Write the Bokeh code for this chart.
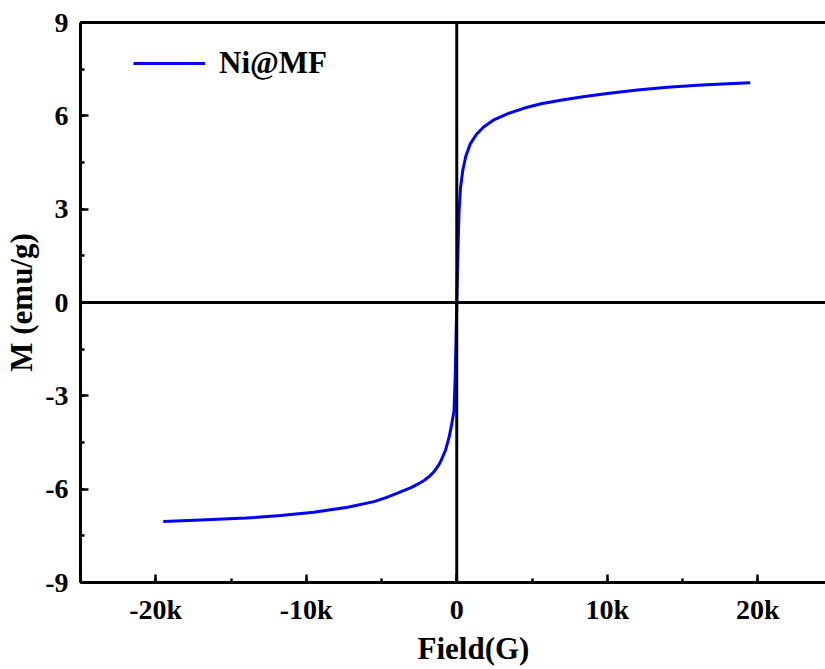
from bokeh.plotting import figure
from bokeh.models import (Range1d, LinearAxis, SingleIntervalTicker, FixedTicker,
                          Span, Legend, LegendItem, ColumnDataSource, Title)
from bokeh.embed import file_html
from bokeh.resources import INLINE

# ---- data ----
field = [-19500, -17000, -14000, -11700, -9500, -7250, -5500, -4700, -3900, -3000,
         -2600, -2170, -1800, -1500, -1250, -1060, -750, -510, -350, -180, -100,
         -50, 0,
         50, 100, 150, 250, 400, 600, 900, 1300, 1800, 2500, 3400, 4500,
         5600, 7000, 8500, 10000, 12000, 14000, 16000, 18000, 19500]
moment = [-7.04, -6.99, -6.93, -6.85, -6.74, -6.58, -6.40, -6.27, -6.12, -5.94,
          -5.84, -5.72, -5.58, -5.43, -5.26, -5.10, -4.75, -4.33, -3.95, -3.47, -2.30,
          -1.20, 0.0,
          1.00, 2.00, 2.90, 3.70, 4.25, 4.70, 5.10, 5.40, 5.65, 5.88, 6.07, 6.25,
          6.39, 6.51, 6.62, 6.72, 6.83, 6.92, 6.98, 7.03, 7.06]
series_name = "Ni@MF"
x_ticks = [-20000, -10000, 0, 10000, 20000]
x_tick_labels = ["-20k", "-10k", "0", "10k", "20k"]
y_ticks = [-9, -6, -3, 0, 3, 6, 9]
y_tick_labels = ["-9", "-6", "-3", "0", "3", "6", "9"]
x_title = "Field(G)"
y_title = "M (emu/g)"

FONT = "Liberation Serif"

p = figure(width=825, height=669, output_backend="svg", toolbar_location=None,
           x_range=Range1d(-25000, 24500), y_range=Range1d(-9, 9),
           x_axis_location=None, y_axis_location=None,
           min_border_left=80, min_border_right=0, min_border_top=22,
           min_border_bottom=87)
p.outline_line_color = None
p.xgrid.visible = False
p.ygrid.visible = False
p.background_fill_color = "white"
p.border_fill_color = "white"

def style(ax):
    ax.axis_line_width = 3
    ax.axis_line_color = "black"
    ax.major_tick_in = 8
    ax.major_tick_out = 0
    ax.minor_tick_in = 4
    ax.minor_tick_out = 0
    ax.major_tick_line_width = 2.5
    ax.minor_tick_line_width = 2.5
    ax.major_label_text_font = FONT
    ax.major_label_text_font_style = "bold"
    ax.major_label_text_font_size = "28px"
    ax.major_label_text_color = "black"
    ax.axis_label_text_font = FONT
    ax.axis_label_text_font_style = "bold"
    ax.axis_label_text_font_size = "31px"
    ax.axis_label_text_color = "black"

xax = LinearAxis(ticker=SingleIntervalTicker(interval=10000, num_minor_ticks=2))
xax.major_label_overrides = dict(zip(x_ticks, x_tick_labels))
style(xax)
xax.major_label_standoff = 11
p.add_layout(xax, "below")

yax = LinearAxis(ticker=SingleIntervalTicker(interval=3, num_minor_ticks=2),
                 axis_label=y_title)
yax.major_label_overrides = dict(zip(y_ticks, y_tick_labels))
style(yax)
yax.major_label_standoff = 12
yax.axis_label_standoff = 3
p.add_layout(yax, "left")

top = LinearAxis(ticker=FixedTicker(ticks=[]))
top.axis_line_width = 3
top.major_label_text_font_size = "0px"
top.major_tick_out = 0
top.minor_tick_out = 0
p.add_layout(top, "above")

# x-axis title: the original frame runs past the right edge of the picture,
# so the title sits right of the visible centre
xt = Title(text=x_title, align="left", offset=337, standoff=2,
           text_font=FONT, text_font_style="bold", text_font_size="31px",
           text_color="black")
p.add_layout(xt, "below")

p.add_layout(Span(location=0, dimension="width", line_color="black", line_width=3))
p.add_layout(Span(location=0, dimension="height", line_color="black", line_width=3))

src = ColumnDataSource(dict(x=field, y=moment))
r = p.line("x", "y", source=src, line_color="#0000ff", line_width=3)

legend = Legend(items=[LegendItem(label=series_name, renderers=[r])],
                location=(53, 501))
legend.border_line_color = None
legend.background_fill_alpha = 0
legend.label_text_font = FONT
legend.label_text_font_style = "bold"
legend.label_text_font_size = "31px"
legend.label_text_color = "black"
legend.glyph_width = 72
legend.label_standoff = 14
legend.padding = 6
p.add_layout(legend)

open("out.html", "w").write(file_html(p, INLINE))
